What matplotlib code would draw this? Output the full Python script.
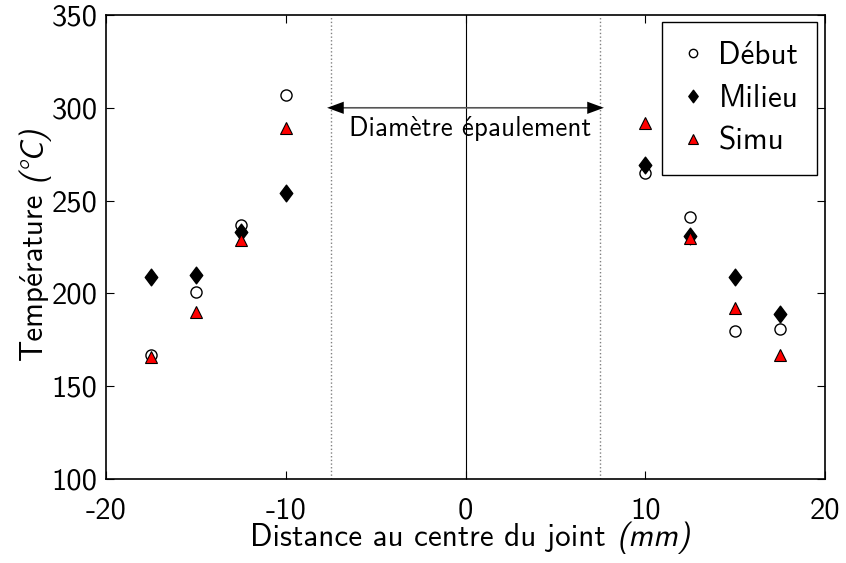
import matplotlib
matplotlib.use("Agg")
import matplotlib.pyplot as plt
from matplotlib.path import Path

plt.rcParams['font.family'] = ['Latin Modern Sans', 'DejaVu Sans']
plt.rcParams['axes.unicode_minus'] = False

x_pos = [-17.5, -15, -12.5, -10, 10, 12.5, 15, 17.5]
debut = [167, 201, 237, 307, 265, 241, 180, 181]
milieu = [209, 210, 233, 254, 269, 231, 209, 189]
simu = [166, 190, 229, 289, 292, 230, 192, 167]
xticks = [-20, -10, 0, 10, 20]
yticks = [100, 150, 200, 250, 300, 350]
shoulder = 7.5
arrow_y = 300
xlabel_parts = ['Distance au centre du joint', '(mm)']
ylabel_parts = ['Température', '(°C)']

W, H = 846, 563
fig = plt.figure(figsize=(W / 100, H / 100), dpi=100)
ax = fig.add_axes([106/W, 1-479/H, (825-106)/W, (479-15)/H])

diamond = Path([(0, 1), (0.75, 0), (0, -1), (-0.75, 0), (0, 1)],
               [Path.MOVETO, Path.LINETO, Path.LINETO, Path.LINETO, Path.CLOSEPOLY])

ax.plot(x_pos, debut, linestyle='none', marker='o', markersize=8,
        markerfacecolor='white', markeredgecolor='black', markeredgewidth=1, label='Début', zorder=3)
ax.plot(x_pos, milieu, linestyle='none', marker=diamond, markersize=12,
        markerfacecolor='black', markeredgecolor='black', label='Milieu', zorder=4)
ax.plot(x_pos, simu, linestyle='none', marker='^', markersize=9,
        markerfacecolor='red', markeredgecolor='black', markeredgewidth=0.8, label='Simu', zorder=5)

ax.axvline(0, color='black', linewidth=0.8, zorder=1)
ax.axvline(-shoulder, color='gray', linestyle=':', linewidth=1, zorder=1)
ax.axvline(shoulder, color='gray', linestyle=':', linewidth=1, zorder=1)

ax.annotate('', xy=(-shoulder, arrow_y), xytext=(shoulder, arrow_y),
            arrowprops=dict(arrowstyle='-', color='#555555', linewidth=1.2,
                            shrinkA=0, shrinkB=0), zorder=2)
ax.annotate('', xy=(-shoulder - 0.2, arrow_y), xytext=(shoulder + 0.2, arrow_y),
            arrowprops=dict(arrowstyle='<|-|>,head_length=0.6,head_width=0.22', color='black',
                            linewidth=0, mutation_scale=20, shrinkA=0, shrinkB=0), zorder=2)
ax.text(-6.5, 295.5, 'Diamètre épaulement', ha='left', va='top', fontsize=19.5)

ax.set_xlim(-20, 20)
ax.set_ylim(100, 350)
ax.set_xticks(xticks)
ax.set_yticks(yticks)
ax.tick_params(direction='in', top=True, right=True, labelsize=22, length=6, width=0.8)
ax.tick_params(axis='x', pad=13)
ax.tick_params(axis='y', pad=6)
for s in ax.spines.values():
    s.set_linewidth(1.2)

leg = ax.legend(loc='upper right', fontsize=22.5, frameon=True, fancybox=False,
                edgecolor='black', handletextpad=0.4, borderpad=0.6,
                labelspacing=0.45, handlelength=0.8, borderaxespad=0,
                markerscale=0.75, bbox_to_anchor=(0.9889, 0.985))
leg.get_frame().set_linewidth(1.0)
leg.get_frame().set_alpha(1)

# axis labels: upright part followed by an oblique part
renderer = fig.canvas.get_renderer()
def text_width(s, fs, style='normal'):
    t = fig.text(0, 0, s, fontsize=fs, style=style)
    w = t.get_window_extent(renderer).width
    t.remove()
    return w

def composite_label(parts, fs, center_px, base_px, vertical):
    w1 = text_width(parts[0], fs)
    w2 = text_width(parts[1], fs, 'oblique')
    sp = text_width('x x', fs) - text_width('xx', fs)
    total = w1 + sp + w2
    start = center_px - total / 2
    if not vertical:
        fig.text(start / W, 1 - base_px / H, parts[0], fontsize=fs, ha='left', va='baseline')
        fig.text((start + w1 + sp) / W, 1 - base_px / H, parts[1], fontsize=fs,
                 style='oblique', ha='left', va='baseline')
    else:
        y0 = center_px + total / 2
        fig.text(base_px / W, 1 - y0 / H, parts[0], fontsize=fs, rotation=90,
                 rotation_mode='anchor', ha='left', va='baseline')
        fig.text(base_px / W, 1 - (y0 - w1 - sp) / H, parts[1], fontsize=fs, rotation=90,
                 rotation_mode='anchor', style='oblique', ha='left', va='baseline')

composite_label(xlabel_parts, 22.5, 470, 546, False)
composite_label(ylabel_parts, 22.5, 243.5, 42, True)

fig.savefig('out.png', dpi=100)
